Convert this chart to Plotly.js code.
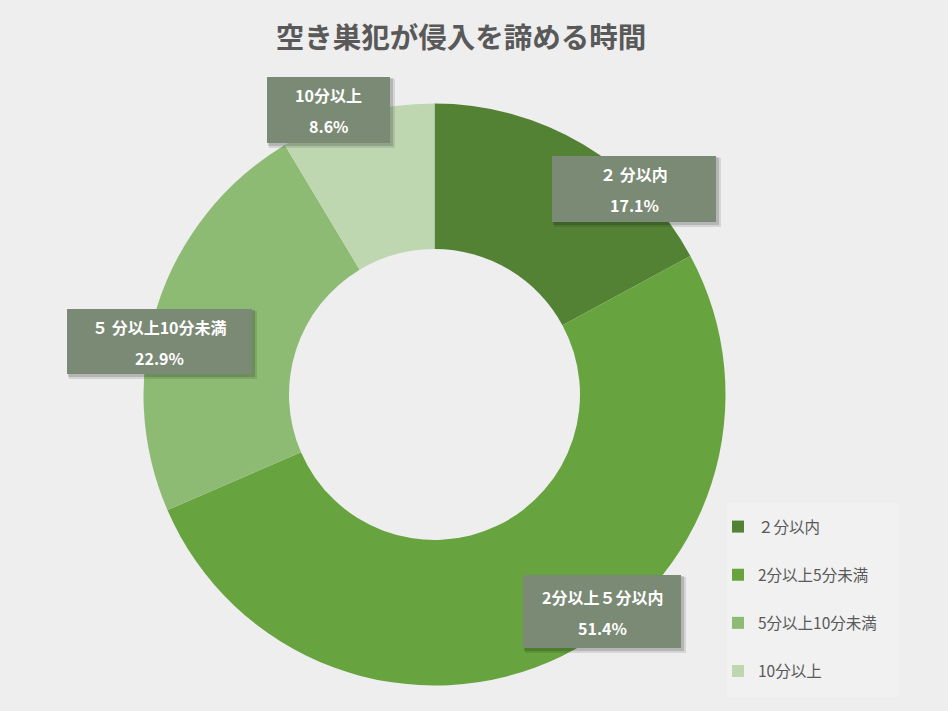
<!DOCTYPE html>
<html>
<head>
<meta charset="utf-8">
<script src="https://cdn.plot.ly/plotly-3.0.1.min.js"></script>
<style>html,body{margin:0;padding:0;background:#eeeeee;}</style>
</head>
<body>
<div id="chart" style="width:948px;height:711px;"></div>
<script>
// ---- data ----
const categories = ['２分以内', '2分以上5分未満', '5分以上10分未満', '10分以上'];
const dataLabels = ['２ 分以内', '2分以上５分以内', '５ 分以上10分未満', '10分以上'];
const values = [17.1, 51.4, 22.9, 8.6];
const colors = ['#548235', '#67A33F', '#8EBB74', '#BFD7B1'];

// ---- label box placement (pixels: left, top, right, bottom) ----
const boxes = [
  [552, 156, 716, 222],
  [523, 575, 681, 648],
  [67, 309, 252, 374],
  [267, 77, 390, 143]
];

const W = 948, H = 711;
const px = x => x / W;
const py = y => 1 - y / H;

const font = '"Noto Sans CJK JP", "Noto Sans", sans-serif';

const traces = [{
  type: 'pie',
  labels: categories,
  values: values,
  marker: {colors: colors, line: {width: 0}},
  hole: 0.5,
  sort: false,
  direction: 'clockwise',
  rotation: 0,
  textinfo: 'none',
  hoverinfo: 'label+percent',
  showlegend: false,
  domain: {x: [px(143.5), px(725.5)], y: [py(685.5), py(103.5)]}
}];

categories.forEach((c, i) => {
  traces.push({
    type: 'scatter',
    mode: 'markers',
    x: [null], y: [null],
    name: c,
    legendgroup: 'g' + i,
    marker: {symbol: 'square', size: 9, color: colors[i]},
    showlegend: true,
    hoverinfo: 'skip'
  });
});

const shapes = [];
// legend backdrop
shapes.push({type: 'rect', xref: 'paper', yref: 'paper', layer: 'below',
  x0: px(727), x1: px(898), y0: py(697), y1: py(503),
  fillcolor: '#f1f1f1', line: {width: 0}});

const annotations = [];
boxes.forEach((b, i) => {
  const [l, t, r, bt] = b;
  // soft shadow
  shapes.push({type: 'rect', xref: 'paper', yref: 'paper', layer: 'above',
    x0: px(l + 2), x1: px(r + 5), y0: py(bt + 5), y1: py(t + 2),
    fillcolor: 'rgba(0,0,0,0.10)', line: {width: 0}});
  shapes.push({type: 'rect', xref: 'paper', yref: 'paper', layer: 'above',
    x0: px(l + 1), x1: px(r + 3), y0: py(bt + 3), y1: py(t + 1),
    fillcolor: 'rgba(0,0,0,0.15)', line: {width: 0}});
  shapes.push({type: 'rect', xref: 'paper', yref: 'paper', layer: 'above',
    x0: px(l), x1: px(r), y0: py(bt), y1: py(t),
    fillcolor: '#7B8A75', line: {width: 0}});
  const cx = (l + r) / 2, cy = (t + bt) / 2;
  annotations.push({xref: 'paper', yref: 'paper', x: px(cx), y: py(cy - 15),
    text: '<b>' + dataLabels[i] + '</b>', showarrow: false,
    font: {family: font, size: 16, color: '#ffffff'}, xanchor: 'center', yanchor: 'middle'});
  annotations.push({xref: 'paper', yref: 'paper', x: px(cx), y: py(cy + 16),
    text: '<b>' + values[i].toFixed(1) + '%</b>', showarrow: false,
    font: {family: font, size: 16, color: '#ffffff'}, xanchor: 'center', yanchor: 'middle'});
});

const layout = {
  width: W, height: H,
  margin: {l: 0, r: 0, t: 0, b: 0},
  paper_bgcolor: '#eeeeee',
  plot_bgcolor: 'rgba(0,0,0,0)',
  title: {text: '<b>空き巣犯が侵入を諦める時間</b>', x: px(461), xanchor: 'center', y: py(38), yanchor: 'middle',
    font: {family: font, size: 28.5, color: '#595959'}},
  xaxis: {visible: false, range: [0, 1]},
  yaxis: {visible: false, range: [0, 1]},
  showlegend: true,
  legend: {x: px(718), y: py(510), xanchor: 'left', yanchor: 'top',
    bgcolor: 'rgba(0,0,0,0)', tracegroupgap: 25, itemsizing: 'constant',
    font: {family: font, size: 15.5, color: '#595959'}},
  shapes: shapes,
  annotations: annotations
};

Plotly.newPlot('chart', traces, layout, {displayModeBar: false, staticPlot: true});
</script>
</body>
</html>
